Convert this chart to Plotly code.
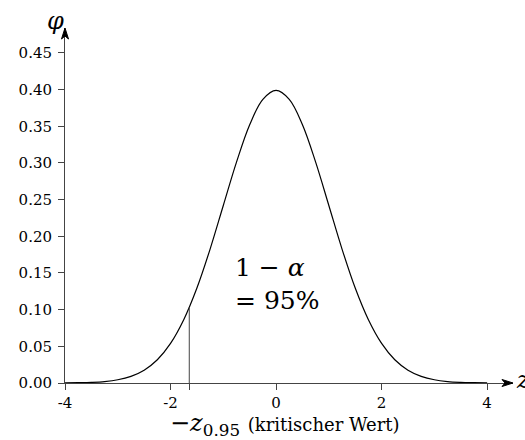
import plotly.graph_objects as go

# Standard normal density
z_vals = [-4.0, -3.75, -3.5, -3.25, -3.0, -2.75, -2.5, -2.25, -2.0, -1.75, -1.5, -1.25,
          -1.0, -0.75, -0.5, -0.25, 0.0, 0.25, 0.5, 0.75, 1.0, 1.25, 1.5, 1.75,
          2.0, 2.25, 2.5, 2.75, 3.0, 3.25, 3.5, 3.75, 4.0]
phi_vals = [0.0001, 0.0004, 0.0009, 0.0020, 0.0044, 0.0091, 0.0175, 0.0317, 0.0540, 0.0863,
            0.1295, 0.1826, 0.2420, 0.3011, 0.3521, 0.3867, 0.3989, 0.3867, 0.3521, 0.3011,
            0.2420, 0.1826, 0.1295, 0.0863, 0.0540, 0.0317, 0.0175, 0.0091, 0.0044, 0.0020,
            0.0009, 0.0004, 0.0001]

crit_z = [-1.645, -1.645]
crit_phi = [0.0, 0.1031]

x_tickvals = [-4, -2, -1.645, 0, 2, 4]
x_ticktext = ["-4", "-2", "", "0", "2", "4"]
y_tickvals = [0.00, 0.05, 0.10, 0.15, 0.20, 0.25, 0.30, 0.35, 0.40, 0.45]

FONT = "DejaVu Serif"
AX = "#444444"

fig = go.Figure()
fig.add_trace(go.Scatter(x=z_vals, y=phi_vals, mode="lines", line=dict(color="black", width=1.2, shape="spline"),
                         hoverinfo="skip"))
fig.add_trace(go.Scatter(x=crit_z, y=crit_phi, mode="lines", line=dict(color=AX, width=1), hoverinfo="skip"))

fig.update_layout(
    width=525, height=440,
    margin=dict(l=65, r=12, t=28, b=57),
    paper_bgcolor="white", plot_bgcolor="white",
    showlegend=False,
    font=dict(family=FONT, size=15, color="black"),
    xaxis=dict(range=[-4, 4.49], tickvals=x_tickvals, ticktext=x_ticktext, ticks="outside", ticklen=6,
               tickcolor=AX, showline=True, linecolor=AX, linewidth=1, showgrid=False, zeroline=False,
               tickfont=dict(family=FONT, size=15)),
    yaxis=dict(range=[0, 0.484], tickvals=y_tickvals, tickformat=".2f", ticks="outside", ticklen=6,
               tickcolor=AX, showline=True, linecolor=AX, linewidth=1, showgrid=False, zeroline=False,
               ticklabelstandoff=3, tickfont=dict(family=FONT, size=15)),
)

# arrowheads
fig.add_shape(type="path", xref="paper", yref="paper", xsizemode="pixel", ysizemode="pixel",
              xanchor=1, yanchor=0, path="M0,0 L-11,3.5 L-8,0 L-11,-3.5 Z",
              fillcolor="black", line=dict(color="black", width=1))
fig.add_shape(type="path", xref="paper", yref="paper", xsizemode="pixel", ysizemode="pixel",
              xanchor=0, yanchor=1, path="M0,0 L3.5,-11 L0,-8 L-3.5,-11 Z",
              fillcolor="black", line=dict(color="black", width=1))

fig.add_annotation(x=-0.0223, y=1.0197, xref="paper", yref="paper", text="<i>φ</i>", showarrow=False,
                   xanchor="center", yanchor="middle", font=dict(family=FONT, size=24))
fig.add_annotation(x=1.0022, y=0.0085, xref="paper", yref="paper", text="<i>z</i>", showarrow=False,
                   xanchor="left", yanchor="middle", font=dict(family=FONT, size=24))
fig.add_annotation(x=-0.815, y=0.158, xref="x", yref="y", text="1 − <i>α</i>", showarrow=False,
                   xanchor="left", yanchor="middle", font=dict(family=FONT, size=25))
fig.add_annotation(x=-0.815, y=0.113, xref="x", yref="y", text="= 95%", showarrow=False,
                   xanchor="left", yanchor="middle", font=dict(family=FONT, size=25))
fig.add_annotation(x=0.2299, y=-0.1155, xref="paper", yref="paper",
                   text="−<i>z</i><sub>0.95</sub> <span style='font-size:18px'>(kritischer Wert)</span>",
                   showarrow=False, xanchor="left", yanchor="middle", font=dict(family=FONT, size=24))

fig.write_html("out.html")
